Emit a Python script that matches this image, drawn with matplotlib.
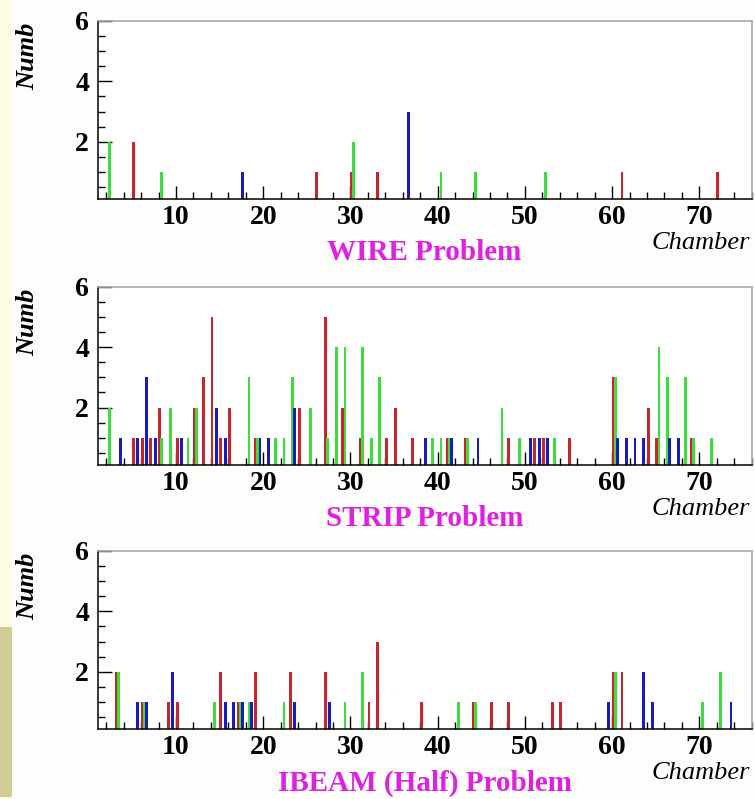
import matplotlib
matplotlib.use('Agg')
import matplotlib.pyplot as plt
from matplotlib.patches import Rectangle
from matplotlib.ticker import MultipleLocator

# WIRE problem: chamber number -> count, one list per colour
wire_red_ch = [5, 26, 30, 33, 61, 72]
wire_red_n = [2, 1, 1, 1, 1, 1]
wire_green_ch = [2, 8, 30, 40, 44, 52]
wire_green_n = [2, 1, 2, 1, 1, 1]
wire_blue_ch = [17, 36]
wire_blue_n = [1, 3]

# STRIP problem
strip_red_ch = [5, 6, 7, 8, 10, 12, 13, 14, 15, 16, 19, 24, 27, 29, 31, 34, 35, 37,
                41, 43, 48, 51, 52, 55, 60, 64, 65, 69]
strip_red_n = [1, 1, 1, 2, 1, 2, 3, 5, 1, 2, 1, 2, 5, 2, 1, 1, 2, 1,
               1, 1, 1, 1, 1, 1, 3, 2, 1, 1]
strip_green_ch = [2, 8, 9, 11, 12, 18, 19, 21, 22, 23, 25, 27, 28, 29, 31, 32, 33,
                  39, 40, 41, 43, 47, 49, 53, 60, 65, 66, 68, 69, 71]
strip_green_n = [2, 1, 2, 1, 2, 3, 1, 1, 1, 3, 2, 1, 4, 4, 4, 1, 3,
                 1, 1, 1, 1, 2, 1, 1, 3, 4, 3, 3, 1, 1]
strip_blue_ch = [3, 5, 6, 7, 10, 14, 15, 19, 20, 23, 38, 41, 44, 50, 51, 52,
                 60, 61, 62, 63, 66, 67]
strip_blue_n = [1, 1, 3, 1, 1, 2, 1, 1, 1, 2, 1, 1, 1, 1, 1, 1,
                1, 1, 1, 1, 1, 1]

# IBEAM (Half) problem
ibeam_red_ch = [3, 6, 9, 10, 15, 17, 19, 23, 27, 32, 33, 38, 44, 46, 48, 53, 54, 60, 61]
ibeam_red_n = [2, 1, 1, 1, 2, 1, 2, 2, 2, 1, 3, 1, 1, 1, 1, 1, 1, 2, 2]
ibeam_green_ch = [3, 6, 14, 17, 18, 22, 29, 31, 42, 44, 60, 70, 72]
ibeam_green_n = [2, 1, 1, 1, 1, 1, 1, 2, 1, 1, 2, 1, 2]
ibeam_blue_ch = [5, 6, 9, 15, 16, 17, 18, 23, 27, 59, 63, 64, 73]
ibeam_blue_n = [1, 1, 2, 1, 1, 1, 1, 1, 1, 1, 2, 1, 1]

titles = ['WIRE Problem', 'STRIP Problem', 'IBEAM (Half) Problem']

RED = '#c8242c'
GREEN = '#3cde3c'
BLUE = '#1a1ac4'
SERIF = ['Liberation Serif', 'DejaVu Serif']


def draw_panel(ax, red, green, blue, title):
    # each colour sits in its own quarter of the chamber bin (ROOT bar offsets)
    for (ch, n), off, col in zip([red, green, blue], [0.125, 0.375, 0.625],
                                 [RED, GREEN, BLUE]):
        ax.bar([c + off for c in ch], n, width=0.33, bottom=0, color=col,
               linewidth=0, zorder=2)

    ax.set_xlim(1, 76)
    ax.set_ylim(0.1, 6)
    ax.xaxis.set_major_locator(MultipleLocator(10))
    ax.xaxis.set_minor_locator(MultipleLocator(2))
    ax.yaxis.set_major_locator(MultipleLocator(2))
    ax.yaxis.set_minor_locator(MultipleLocator(0.5))
    ax.tick_params(axis='x', which='major', direction='in', length=9.5, width=1,
                   top=False, pad=4)
    ax.tick_params(axis='x', which='minor', direction='in', length=4.8, width=1,
                   top=False)
    ax.tick_params(axis='y', which='major', direction='in', length=10, width=1,
                   right=False, pad=6)
    ax.tick_params(axis='y', which='minor', direction='in', length=5, width=1,
                   right=False)
    for lab in ax.get_xticklabels() + ax.get_yticklabels():
        lab.set_fontfamily(SERIF)
        lab.set_fontweight('bold')
        lab.set_fontsize(20)

    ax.spines['left'].set_linewidth(1.1)
    ax.spines['bottom'].set_linewidth(1.1)
    for side in ['top', 'right']:
        ax.spines[side].set_color('#a8a8a8')
        ax.spines[side].set_linewidth(1.2)
    ax.set_facecolor('white')

    ax.text(-0.106, 0.80, 'Numb', transform=ax.transAxes, rotation=90,
            ha='center', va='center', fontsize=19, fontweight='bold',
            fontstyle='italic', family=SERIF)
    ax.text(0.997, -0.245, 'Chamber', transform=ax.transAxes, ha='right',
            va='center', fontsize=19, fontstyle='italic', family=SERIF)
    ax.text(0.5, -0.30, title, transform=ax.transAxes, ha='center', va='center',
            fontsize=21, fontweight='bold', color='#e020e0', family=SERIF)


fig = plt.figure(figsize=(7.55, 7.99), dpi=100, facecolor='#fdfdfb')

# slide background strip on the left edge
fig.patches.append(Rectangle((0, 0), 12 / 755, 1, transform=fig.transFigure,
                             facecolor='#fdfbe2', edgecolor='none', zorder=0))
fig.patches.append(Rectangle((0, 2 / 799), 12 / 755, 170 / 799,
                             transform=fig.transFigure, facecolor='#d0cc98',
                             edgecolor='none', zorder=0))

left = 97.5 / 755
width = 654.2 / 755
height = 178.5 / 799
ax1 = fig.add_axes([left, 1 - 199.3 / 799, width, height])
ax2 = fig.add_axes([left, 1 - 465.0 / 799, width, height])
ax3 = fig.add_axes([left, 1 - 729.3 / 799, width, height])

draw_panel(ax1, (wire_red_ch, wire_red_n), (wire_green_ch, wire_green_n),
           (wire_blue_ch, wire_blue_n), titles[0])
draw_panel(ax2, (strip_red_ch, strip_red_n), (strip_green_ch, strip_green_n),
           (strip_blue_ch, strip_blue_n), titles[1])
draw_panel(ax3, (ibeam_red_ch, ibeam_red_n), (ibeam_green_ch, ibeam_green_n),
           (ibeam_blue_ch, ibeam_blue_n), titles[2])

fig.savefig('out.png', dpi=100, facecolor=fig.get_facecolor())
